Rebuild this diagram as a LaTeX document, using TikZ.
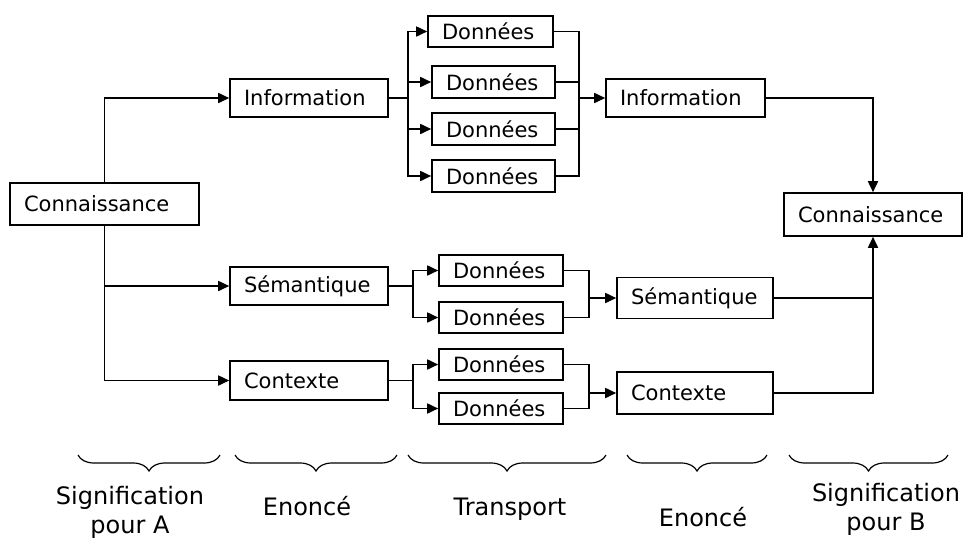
\documentclass[tikz,border=0pt]{standalone}
\usepackage{fontspec}
\setmainfont{DejaVu Sans}
\usetikzlibrary{arrows.meta,decorations.pathreplacing}
\tikzset{
  box/.style={draw, line width=1.6pt, inner xsep=14pt, inner ysep=0pt, align=left,
    text width=#1, font=\fontsize{21}{25}\selectfont},
  conn/.style={line width=1.7pt},
  arr/.style={conn, -{Triangle[length=11pt,width=10pt]}},
  brc/.style={line width=1.2pt, decorate, decoration={brace, mirror, amplitude=16pt}},
  lbl/.style={font=\fontsize{24}{29}\selectfont, align=center, inner sep=0pt}
}
\begin{document}
\begin{tikzpicture}[x=1pt,y=-1pt]
\useasboundingbox (0,0) rectangle (964,539);
% boxes (text width = box width - 28pt)
\node[box=161pt, minimum height=42pt] (cA) at (104.5,204) {Connaissance};
\node[box=130pt, minimum height=38pt] (infA) at (309,98) {Information};
\node[box=97pt, minimum height=31pt] (d1) at (490.5,31.5) {Données};
\node[box=95pt, minimum height=32pt] (d2) at (493.5,82) {Données};
\node[box=95pt, minimum height=32pt] (d3) at (493.5,129) {Données};
\node[box=95pt, minimum height=32pt] (d4) at (493.5,176) {Données};
\node[box=131pt, minimum height=38pt] (infB) at (685.5,98) {Information};
\node[box=150pt, minimum height=43pt] (cB) at (873,214.5) {Connaissance};
\node[box=130pt, minimum height=38pt] (semA) at (309,286) {Sémantique};
\node[box=130pt, minimum height=39pt] (ctxA) at (309,380.5) {Contexte};
\node[box=96pt, minimum height=31pt] (d5) at (501,270.5) {Données};
\node[box=96pt, minimum height=31pt] (d6) at (501,317.5) {Données};
\node[box=96pt, minimum height=31pt] (d7) at (501,364.5) {Données};
\node[box=96pt, minimum height=31pt] (d8) at (501,408.5) {Données};
\node[box=128pt, minimum height=41pt] (semB) at (695,298) {Sémantique};
\node[box=128pt, minimum height=42pt] (ctxB) at (695,393) {Contexte};
% junctions
\coordinate (j1) at (408,98);
\coordinate (j2) at (579,98);
\coordinate (j4) at (413,286);
\coordinate (j5) at (413,380.5);
\coordinate (j6) at (589,298);
\coordinate (j7) at (589,393);
% connectors from Connaissance A
\draw[arr] (cA.north) |- (infA.west);
\draw[arr] (cA.south) |- (semA.west);
\draw[arr] (cA.south) |- (ctxA.west);
% Information -> Données
\draw[conn] (infA.east) -- (j1);
\draw[arr] (j1) |- (d1.west);
\draw[arr] (j1) |- (d2.west);
\draw[arr] (j1) |- (d3.west);
\draw[arr] (j1) |- (d4.west);
% Données -> Information B
\draw[conn] (d1.east) -| (j2);
\draw[conn] (d4.east) -| (j2);
\draw[conn] (d2.east) -- (d2.east -| j2);
\draw[conn] (d3.east) -- (d3.east -| j2);
\draw[arr] (j2) -- (infB.west);
% Information B -> Connaissance B
\draw[arr] (infB.east) -| (cB.north);
% Sémantique
\draw[conn] (semA.east) -- (j4);
\draw[arr] (j4) |- (d5.west);
\draw[arr] (j4) |- (d6.west);
\draw[conn] (d5.east) -| (j6);
\draw[conn] (d6.east) -| (j6);
\draw[arr] (j6) -- (semB.west);
% Contexte
\draw[conn] (ctxA.east) -- (j5);
\draw[arr] (j5) |- (d7.west);
\draw[arr] (j5) |- (d8.west);
\draw[conn] (d7.east) -| (j7);
\draw[conn] (d8.east) -| (j7);
\draw[arr] (j7) -- (ctxB.west);
% to Connaissance B
\draw[conn] (semB.east) -- (semB.east -| cB.south);
\draw[arr] (ctxB.east) -| (cB.south);
% braces
\draw[brc] (78,455) -- (220,455);
\draw[brc] (235,455) -- (397,455);
\draw[brc] (408,455) -- (606,455);
\draw[brc] (627,455) -- (767,455);
\draw[brc] (789,455) -- (948,455);
% labels
\node[lbl, anchor=north] (lA) at (130,486) {Signification\\pour A};
\node[lbl, anchor=base] (lE1) at (307,515) {Enoncé};
\node[lbl, anchor=base] (lT) at (510,515) {Transport};
\node[lbl, anchor=base] (lE2) at (703,526) {Enoncé};
\node[lbl, anchor=north] (lB) at (886,483) {Signification\\pour B};
\end{tikzpicture}
\end{document}
